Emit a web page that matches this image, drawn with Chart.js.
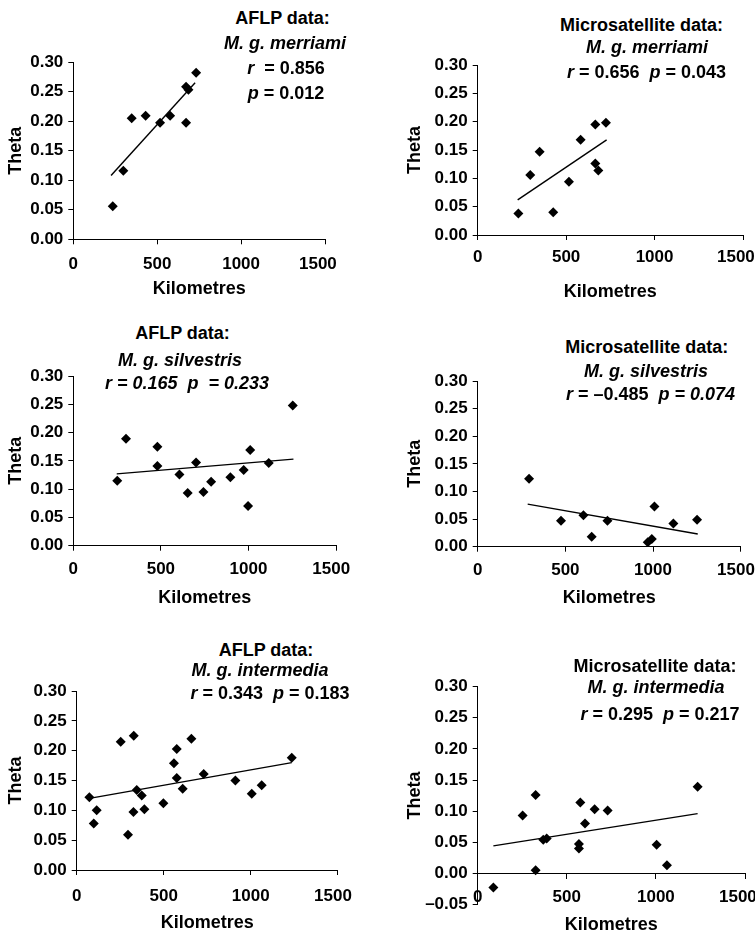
<!DOCTYPE html>
<html>
<head>
<meta charset="utf-8">
<script src="https://cdn.jsdelivr.net/npm/chart.js@4.4.1/dist/chart.umd.min.js"></script>
<style>
  body { margin: 0; background: #fff; }
  #page { position: relative; width: 755px; height: 935px; overflow: hidden; }
  canvas { position: absolute; }
  .txt {
    position: absolute; transform: translate(-50%, -50%);
    font-family: 'Liberation Sans', Arial, sans-serif; font-weight: bold;
    font-size: 18px; line-height: 18px; white-space: nowrap; color: #000;
  }
</style>
</head>
<body>
<div id="page">
  <canvas id="c1" width="360" height="264"></canvas>
  <canvas id="c2" width="355" height="264"></canvas>
  <canvas id="c3" width="360" height="264"></canvas>
  <canvas id="c4" width="355" height="264"></canvas>
  <canvas id="c5" width="360" height="264"></canvas>
  <canvas id="c6" width="355" height="264"></canvas>
</div>
<script>
// tick labels
var kmTicks = [0, 500, 1000, 1500];
var thetaTicks = [0, 0.05, 0.10, 0.15, 0.20, 0.25, 0.30];

// AFLP, M. g. merriami
var aflpMerriamiKm = [235, 298, 348, 431, 517, 577, 672, 672, 686, 732];
var aflpMerriamiTheta = [0.056, 0.116, 0.205, 0.209, 0.197, 0.209, 0.197, 0.258, 0.253, 0.282];
var aflpMerriamiFitKm = [225, 726];
var aflpMerriamiFitTheta = [0.108, 0.265];

// Microsatellite, M. g. merriami
var msatMerriamiKm = [230, 297, 350, 427, 516, 582, 665, 725, 665, 682];
var msatMerriamiTheta = [0.038, 0.106, 0.147, 0.040, 0.094, 0.168, 0.195, 0.198, 0.126, 0.114];
var msatMerriamiFitKm = [226, 729];
var msatMerriamiFitTheta = [0.062, 0.168];

// AFLP, M. g. silvestris
var aflpSilvestrisKm = [251, 301, 480, 480, 606, 653, 701, 743, 787, 897, 973, 1010, 998, 1116, 1253];
var aflpSilvestrisTheta = [0.115, 0.189, 0.175, 0.141, 0.126, 0.093, 0.147, 0.095, 0.113, 0.121, 0.134, 0.169, 0.070, 0.146, 0.248];
var aflpSilvestrisFitKm = [248, 1257];
var aflpSilvestrisFitTheta = [0.127, 0.153];

// Microsatellite, M. g. silvestris
var msatSilvestrisKm = [293, 475, 603, 650, 740, 970, 993, 1008, 1116, 1251];
var msatSilvestrisTheta = [0.123, 0.047, 0.057, 0.018, 0.047, 0.008, 0.014, 0.073, 0.042, 0.049];
var msatSilvestrisFitKm = [285, 1255];
var msatSilvestrisFitTheta = [0.077, 0.023];

// AFLP, M. g. intermedia
var aflpIntermediaKm = [73, 98, 115, 253, 328, 295, 326, 345, 374, 389, 498, 559, 575, 575, 609, 659, 730, 912, 1006, 1063, 1236];
var aflpIntermediaTheta = [0.122, 0.078, 0.100, 0.215, 0.225, 0.059, 0.097, 0.134, 0.125, 0.102, 0.112, 0.179, 0.203, 0.154, 0.136, 0.220, 0.161, 0.150, 0.128, 0.142, 0.188];
var aflpIntermediaFitKm = [73, 1236];
var aflpIntermediaFitTheta = [0.120, 0.180];

// Microsatellite, M. g. intermedia
var msatIntermediaKm = [88, 252, 325, 325, 368, 387, 568, 568, 576, 602, 656, 729, 1004, 1062, 1234];
var msatIntermediaTheta = [-0.023, 0.093, 0.126, 0.005, 0.054, 0.056, 0.047, 0.040, 0.114, 0.080, 0.103, 0.101, 0.046, 0.013, 0.139];
var msatIntermediaFitKm = [88, 1234];
var msatIntermediaFitTheta = [0.044, 0.096];

Chart.defaults.font.family = "'Liberation Sans', Arial, sans-serif";
Chart.defaults.font.weight = 'bold';
Chart.defaults.color = '#000';
Chart.defaults.animation = false;

function pts(xs, ys) {
    var out = [];
    for (var i = 0; i < xs.length; i++) out.push({x: xs[i], y: ys[i]});
    return out;
}

function fmtTheta(v) {
    if (Math.abs(v) < 1e-9) return '0.00';
    return v < 0 ? '\u2013' + Math.abs(v).toFixed(2) : v.toFixed(2);
}

// area = plot box in page pixels, L/W = canvas left/width
// lastPad: trailing spaces so the last km label sits a little left of its tick, as in the original
function makePanel(id, area, L, W, tickPad, kmOff, thetaCx, lastPad, km, theta, fitKm, fitTheta, yMin) {
    var canvas = document.getElementById(id);
    var below = yMin < 0;
    var T = Math.round(area.top - 20);
    var xHeight = kmOff + 10.8;
    var H = below ? 935 - T : Math.round(area.bottom - T + xHeight + 6);
    canvas.width = W; canvas.height = H;
    canvas.style.left = L + 'px'; canvas.style.top = T + 'px';
    var yWidth = area.left - L;
    var padBottom = below ? T + H - area.bottom : T + H - area.bottom - xHeight;
    var lastKm = kmTicks[kmTicks.length - 1];

    return new Chart(canvas, {
        type: 'scatter',
        data: {
            datasets: [{
                data: pts(km, theta),
                pointStyle: 'rectRot',
                pointRadius: 5,
                backgroundColor: '#000',
                borderColor: '#000',
                borderWidth: 0
            }, {
                data: pts(fitKm, fitTheta),
                showLine: true,
                pointRadius: 0,
                borderColor: '#000',
                borderWidth: 1.4
            }]
        },
        options: {
            responsive: false,
            devicePixelRatio: 1,
            layout: { padding: { top: area.top - T, right: L + W - area.right, bottom: padBottom, left: 0 } },
            plugins: { legend: { display: false }, tooltip: { enabled: false } },
            scales: {
                x: {
                    type: 'linear',
                    position: below ? { y: 0 } : 'bottom',
                    min: kmTicks[0], max: lastKm,
                    afterBuildTicks: function (s) { s.ticks = kmTicks.map(function (v) { return {value: v}; }); },
                    ticks: { padding: tickPad, font: { size: 17 }, maxRotation: 0, autoSkip: false,
                        callback: function (v) { return v === lastKm ? String(v) + lastPad : String(v); } },
                    grid: { drawOnChartArea: false, drawTicks: true, tickLength: 5, color: '#000' },
                    border: { color: '#000', width: 1 },
                    title: { display: true, text: 'Kilometres', font: { size: 18, weight: 'bold' }, padding: 0 },
                    afterFit: function (s) { s.height = xHeight; s.paddingLeft = 0; s.paddingRight = 0; }
                },
                y: {
                    type: 'linear',
                    min: yMin, max: thetaTicks[thetaTicks.length - 1],
                    afterBuildTicks: function (s) {
                        var t = below ? [yMin].concat(thetaTicks) : thetaTicks;
                        s.ticks = t.map(function (v) { return {value: v}; });
                    },
                    ticks: { padding: 5, font: { size: 17 }, callback: function (v) { return fmtTheta(v); } },
                    grid: { drawOnChartArea: false, drawTicks: true, tickLength: 5, color: '#000' },
                    border: { color: '#000', width: 1 },
                    title: { display: true, text: 'Theta', font: { size: 18, weight: 'bold' },
                        padding: { top: thetaCx - L - 10.8, bottom: 0 } },
                    afterFit: function (s) { s.width = yWidth; s.paddingTop = 0; s.paddingBottom = 0; }
                }
            }
        }
    });
}

makePanel('c1', {left: 73.3, right: 325, top: 62, bottom: 239.3}, 0, 360, 10.3, 50, 16.5, '   ',
    aflpMerriamiKm, aflpMerriamiTheta, aflpMerriamiFitKm, aflpMerriamiFitTheta, 0);
makePanel('c2', {left: 477.7, right: 743, top: 65, bottom: 235}, 400, 355, 7.3, 57.5, 415.5, '   ',
    msatMerriamiKm, msatMerriamiTheta, msatMerriamiFitKm, msatMerriamiFitTheta, 0);
makePanel('c3', {left: 73.3, right: 336, top: 376, bottom: 545.7}, 0, 360, 8.3, 52, 16.5, '  ',
    aflpSilvestrisKm, aflpSilvestrisTheta, aflpSilvestrisFitKm, aflpSilvestrisFitTheta, 0);
makePanel('c4', {left: 477.7, right: 740.7, top: 381, bottom: 546.7}, 400, 355, 8.8, 51, 415.5, '  ',
    msatSilvestrisKm, msatSilvestrisTheta, msatSilvestrisFitKm, msatSilvestrisFitTheta, 0);
makePanel('c5', {left: 76.7, right: 337.7, top: 691, bottom: 870}, 0, 360, 10.8, 53, 16.5, '  ',
    aflpIntermediaKm, aflpIntermediaTheta, aflpIntermediaFitKm, aflpIntermediaFitTheta, 0);
makePanel('c6', {left: 477.7, right: 745, top: 686.7, bottom: 904.4}, 400, 355, 8.5, 52, 415.5, '   ',
    msatIntermediaKm, msatIntermediaTheta, msatIntermediaFitKm, msatIntermediaFitTheta, -0.05);

// panel headings [centre x, centre y, html]
var headings = [
    [282.5, 18, 'AFLP data:'],
    [285, 43, '<i>M. g. merriami</i>'],
    [286, 68, '<i>r</i>&nbsp; = 0.856'],
    [286, 93, '<i>p</i> = 0.012'],
    [641.5, 25, 'Microsatellite data:'],
    [647, 47, '<i>M. g. merriami</i>'],
    [646.5, 72, '<i>r</i> = 0.656&nbsp; <i>p</i> = 0.043'],
    [182.5, 333, 'AFLP data:'],
    [180, 360, '<i>M. g. silvestris</i>'],
    [187, 382.5, '<i>r = 0.165&nbsp; p&nbsp; = 0.233</i>'],
    [646.7, 346.7, 'Microsatellite data:'],
    [646, 371, '<i>M. g. silvestris</i>'],
    [650.5, 394, '<i>r</i> = \u20130.485&nbsp; <i>p = 0.074</i>'],
    [266, 650, 'AFLP data:'],
    [260, 670, '<i>M. g. intermedia</i>'],
    [270, 692.5, '<i>r</i> = 0.343&nbsp; <i>p</i> = 0.183'],
    [655, 666, 'Microsatellite data:'],
    [656, 687, '<i>M. g. intermedia</i>'],
    [660, 714, '<i>r</i> = 0.295&nbsp; <i>p</i> = 0.217']
];
var page = document.getElementById('page');
headings.forEach(function (h) {
    var d = document.createElement('div');
    d.className = 'txt';
    d.style.left = h[0] + 'px';
    d.style.top = h[1] + 'px';
    d.innerHTML = h[2];
    page.appendChild(d);
});
</script>
</body>
</html>
